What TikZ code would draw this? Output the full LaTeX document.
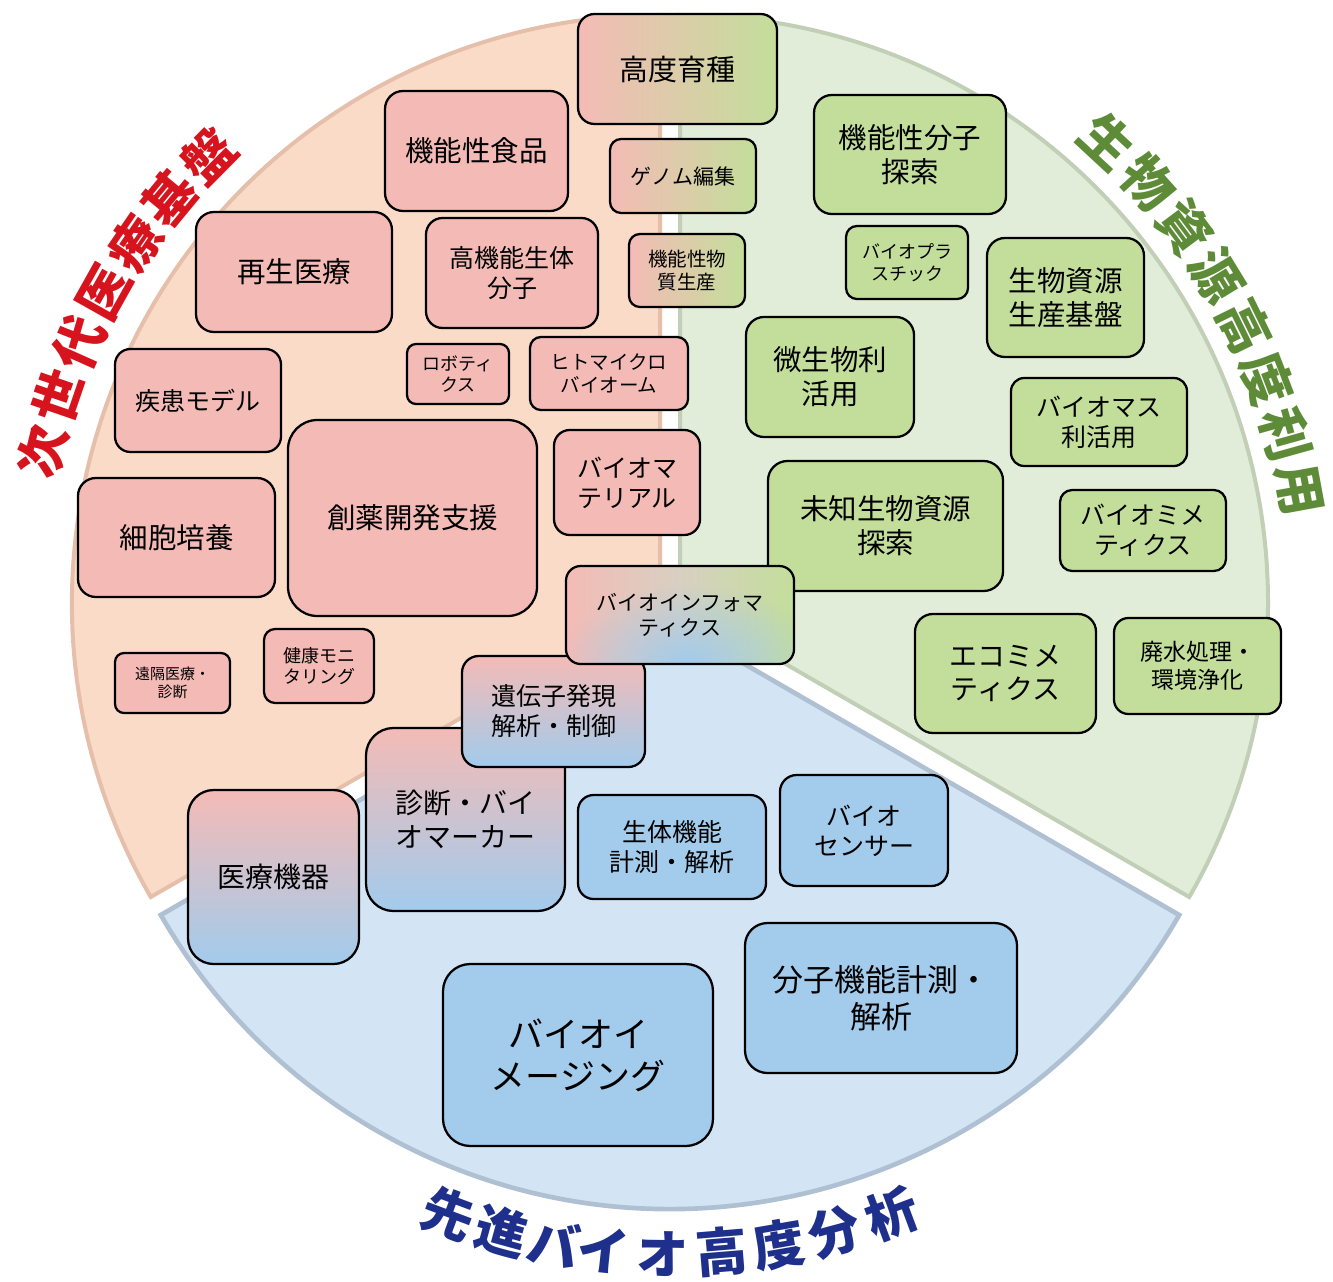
\documentclass[tikz,border=0pt]{standalone}
\usepackage{fontspec}
\newfontfamily\jp{Noto Sans CJK JP}
\usetikzlibrary{fadings}
\definecolor{pinkS}{HTML}{F9DBC8}
\definecolor{pinkB}{HTML}{E6BFAB}
\definecolor{greenS}{HTML}{E2EDD9}
\definecolor{greenB}{HTML}{C0CFB5}
\definecolor{blueS}{HTML}{D3E5F4}
\definecolor{blueB}{HTML}{AFC0D2}
\definecolor{pinkbox}{HTML}{F4BBB6}
\definecolor{greenbox}{HTML}{C3DE9B}
\definecolor{bluebox}{HTML}{A2CBEC}
\definecolor{infomid}{HTML}{D8D0C2}
\definecolor{redT}{HTML}{D7141E}
\definecolor{greenT}{HTML}{5E8B37}
\definecolor{blueT}{HTML}{1E2F8C}
\tikzfading[name=blobfade, inner color=transparent!0, outer color=transparent!100]
\newcommand\bx[8][]{%
  \pgfmathsetmacro\bw{0.75*(#5-#3)}%
  \pgfmathsetmacro\bh{0.75*(#6-#4)}%
  \pgfmathsetmacro\br{0.15*min(\bw,\bh)}%
  \pgfmathsetmacro\fs{0.75*#7}%
  \pgfmathsetmacro\fl{0.9*#7}%
  \node[box, minimum width=\bw pt, minimum height=\bh pt, rounded corners=\br pt,
        font=\jp\fontsize{\fs pt}{\fl pt}\selectfont, #1] (#2) at ({(#3+#5)/2},{(#4+#6)/2}) {#8};%
}
\begin{document}
\begin{tikzpicture}[x=0.75pt,y=-0.75pt,
  box/.style={draw=black, line width=1.7pt, fill=pinkbox, align=center, inner sep=0pt, text=black},
  hgrad/.style={left color=pinkbox, right color=greenbox},
  vgrad/.style={top color=pinkbox, bottom color=bluebox},
  gbox/.style={fill=greenbox},
  bbox/.style={fill=bluebox},
  ttl/.style={font=\jp\bfseries\fontsize{39pt}{41pt}\selectfont, inner sep=0pt}]
\useasboundingbox (0,0) rectangle (1333,1281);
% sectors
\filldraw[fill=pinkS, draw=pinkB, line width=3pt] (660,603) -- ++(150:588) arc[start angle=150, end angle=270, radius=588] -- cycle;
\filldraw[fill=greenS, draw=greenB, line width=3pt] (680,603) -- ++(270:588) arc[start angle=270, end angle=390, radius=588] -- cycle;
\filldraw[fill=blueS, draw=blueB, line width=3.5pt] (670,621) -- ++(30:588) arc[start angle=30, end angle=150, radius=588] -- cycle;
% titles
\foreach \c/\a [count=\i] in {次/193.8,世/198.95,代/204.1,医/209.25,療/214.4,基/219.55,盤/224.7}
  \node[ttl, text=redT, rotate={-\a-90}] (r\i) at ([shift={(\a:636)}]660,603) {\c};
\foreach \c/\a [count=\i] in {生/-47.2,物/-41.9,資/-36.7,源/-31.4,高/-26.1,度/-20.9,利/-15.6,用/-10.4}
  \node[ttl, text=greenT, rotate={-\a-90}] (g\i) at ([shift={(\a:629)}]680,603) {\c};
\foreach \c/\a [count=\i] in {先/110.5,進/105.4,バ/100.6,イ/96.0,オ/90.7,高/85.3,度/80.1,分/74.9,析/69.5}
  \node[ttl, text=blueT, rotate={90-\a}] (b\i) at ([shift={(\a:633)}]670,621) {\c};
% pink boxes
\bx[hgrad]{kodo}{578}{14}{777}{124}{29}{高度育種}
\bx{kinoshoku}{385}{91}{568}{211}{28.5}{機能性食品}
\bx[hgrad]{genome}{610}{139}{756}{213}{21}{ゲノム編集}
\bx{saisei}{196}{212}{392}{332}{28.5}{再生医療}
\bx{kokino}{426}{218}{598}{328}{25}{高機能生体\\分子}
\bx[hgrad]{busshitsu}{629}{234}{745}{307}{19.5}{機能性物\\質生産}
\bx{shikkan}{115}{349}{281}{452}{25}{疾患モデル}
\bx{robo}{407}{344}{509}{404}{18}{ロボティ\\クス}
\bx{micro}{530}{337}{688}{410}{19.5}{ヒトマイクロ\\バイオーム}
\bx{saibo}{78}{478}{275}{597}{28.5}{細胞培養}
\bx{soyaku}{288}{420}{537}{616}{28.5}{創薬開発支援}
\bx{biomat}{554}{430}{700}{535}{25}{バイオマ\\テリアル}
\bx{enkaku}{115}{653}{230}{713}{15}{遠隔医療・\\診断}
\bx{kenko}{264}{629}{374}{703}{18}{健康モニ\\タリング}
% green boxes
\bx[gbox]{kinobunshi}{814}{95}{1006}{214}{28.5}{機能性分子\\探索}
\bx[gbox]{bioplas}{846}{226}{968}{299}{18}{バイオプラ\\スチック}
\bx[gbox]{seibutsu}{987}{238}{1144}{357}{28.5}{生物資源\\生産基盤}
\bx[gbox]{biseibutsu}{746}{317}{914}{437}{28.5}{微生物利\\活用}
\bx[gbox]{biomass}{1011}{378}{1187}{466}{25}{バイオマス\\利活用}
\bx[gbox]{michi}{768}{461}{1003}{591}{28.5}{未知生物資源\\探索}
\bx[gbox]{biomime}{1060}{490}{1226}{571}{25}{バイオミメ\\ティクス}
\bx[gbox]{ecomime}{915}{614}{1096}{733}{28}{エコミメ\\ティクス}
\bx[gbox]{haisui}{1114}{618}{1281}{714}{23}{廃水処理・\\環境浄化}
% blue boxes
\bx[bbox]{seitai}{578}{795}{766}{899}{25}{生体機能\\計測・解析}
\bx[bbox]{sensor}{780}{775}{948}{886}{25}{バイオ\\センサー}
\bx[bbox]{bunshi}{745}{923}{1017}{1073}{31}{分子機能計測・\\解析}
\bx[bbox]{imaging}{443}{964}{713}{1146}{35}{バイオイ\\メージング}
% pink-to-blue boxes
\bx[vgrad]{iryo}{188}{790}{359}{964}{28}{医療機器}
\bx[vgrad]{shindan}{366}{728}{565}{911}{28}{診断・バイ\\オマーカー}
\bx[vgrad]{iden}{462}{656}{645}{767}{25}{遺伝子発現\\解析・制御}
% bioinformatics box
\path[rounded corners=11pt, left color=pinkbox, right color=greenbox, middle color=infomid] (566,566) rectangle (794,664);
\begin{scope}
  \clip[rounded corners=11pt] (566,566) rectangle (794,664);
  \fill[bluebox, path fading=blobfade] (690,664) ellipse [x radius=130, y radius=80];
\end{scope}
\bx[fill=none]{info}{566}{566}{794}{664}{21}{バイオインフォマ\\ティクス}
\end{tikzpicture}
\end{document}
